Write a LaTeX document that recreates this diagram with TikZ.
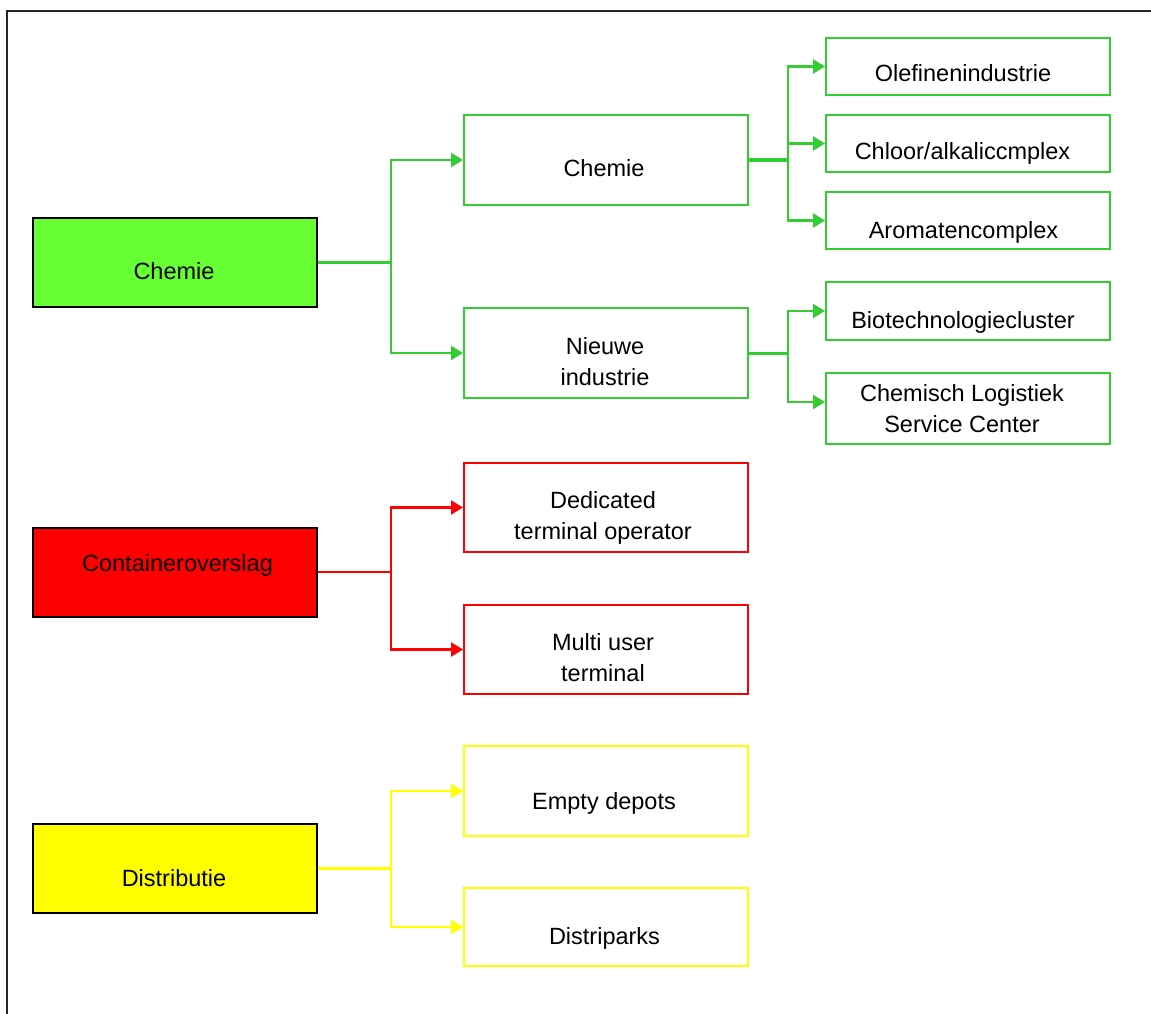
\documentclass[tikz,border=0pt]{standalone}
\usepackage{fontspec}
\setmainfont{Liberation Sans}
\usetikzlibrary{arrows.meta}
\definecolor{gfill}{RGB}{102,255,51}
\definecolor{gline}{RGB}{51,204,51}
\definecolor{rline}{RGB}{255,0,0}
\definecolor{yline}{RGB}{255,255,0}
\begin{document}
\begin{tikzpicture}[x=1pt,y=-1pt,
  mainbox/.style={draw=black, line width=2pt, minimum width=284pt, minimum height=89pt, inner sep=0pt},
  subbox/.style={draw=#1, fill=white, line width=2pt, minimum width=284pt, inner sep=0pt},
  txt/.style={anchor=base, inner sep=0pt, align=center, font=\fontsize{23.5}{31}\selectfont},
  con/.style={draw=#1, line width=2.2pt},
  arr/.style={draw=#1, line width=2.2pt, -{Triangle[length=12pt,width=14pt]}}
]
\useasboundingbox (0,0) rectangle (1151,1014);
\draw[line width=2pt, black!85] (7,1014) -- (7,11) -- (1151,11);

% level 1
\node[mainbox, fill=gfill] (m1) at (175,262.5) {};
\node[mainbox, fill=rline] (m2) at (175,572) {};
\node[mainbox, fill=yline] (m3) at (175,868.5) {};
\node[txt] (m1t) at (174,279) {Chemie};
\node[txt] (m2t) at (177.5,571) {Containeroverslag};
\node[txt] (m3t) at (174,886) {Distributie};

% level 2
\node[subbox=gline, minimum height=90pt] (a1) at (606,160) {};
\node[subbox=gline, minimum height=90pt] (a2) at (606,353) {};
\node[subbox=rline, minimum height=89pt] (b1) at (606,507.5) {};
\node[subbox=rline, minimum height=89pt] (b2) at (606,649.5) {};
\node[subbox=yline, minimum height=90pt] (c1) at (606,791) {};
\node[subbox=yline, minimum height=78pt] (c2) at (606,927) {};
\node[txt] (a1t) at (604,176) {Chemie};
\node[txt] (a2t) at (605,385) {Nieuwe\\industrie};
\node[txt] (b1t) at (603,539) {Dedicated\\terminal operator};
\node[txt] (b2t) at (603,681) {Multi user\\terminal};
\node[txt] (c1t) at (604,809) {Empty depots};
\node[txt] (c2t) at (604.5,944) {Distriparks};

% level 3
\node[subbox=gline, minimum height=57pt] (d1) at (968,66.5) {};
\node[subbox=gline, minimum height=57pt] (d2) at (968,143.5) {};
\node[subbox=gline, minimum height=57pt] (d3) at (968,220.5) {};
\node[subbox=gline, minimum height=58pt] (d4) at (968,311) {};
\node[subbox=gline, minimum height=71pt] (d5) at (968,408.5) {};
\node[txt] (d1t) at (963,82) {Olefinenindustrie};
\node[txt] (d2t) at (962.5,160) {Chloor/alkaliccmplex};
\node[txt] (d3t) at (963.5,238) {Aromatencomplex};
\node[txt] (d4t) at (963,328) {Biotechnologiecluster};
\node[txt] (d5t) at (962,432) {Chemisch Logistiek\\Service Center};

% connectors level 1 -> 2
\draw[con=gline] (m1.east) -- ++(73,0) coordinate (j1);
\draw[arr=gline] (j1) |- (a1.west);
\draw[arr=gline] (j1) |- (a2.west);
\draw[con=rline] (m2.east) -- ++(73,0) coordinate (j2);
\draw[arr=rline] (j2) |- (b1.west);
\draw[arr=rline] (j2) |- (b2.west);
\draw[con=yline] (m3.east) -- ++(73,0) coordinate (j3);
\draw[arr=yline] (j3) |- (c1.west);
\draw[arr=yline] (j3) |- (c2.west);

% connectors level 2 -> 3
\draw[con=gline, line width=3.2pt] (a1.east) -- ++(39,0) coordinate (j4);
\draw[arr=gline] (j4) |- (d1.west);
\draw[arr=gline] (j4) |- (d2.west);
\draw[arr=gline] (j4) |- (d3.west);
\draw[con=gline, line width=3pt] (a2.east) -- ++(39,0) coordinate (j5);
\draw[arr=gline] (j5) |- (d4.west);
\draw[arr=gline] (j5) |- ([yshift=6.5pt]d5.west);
\end{tikzpicture}
\end{document}
